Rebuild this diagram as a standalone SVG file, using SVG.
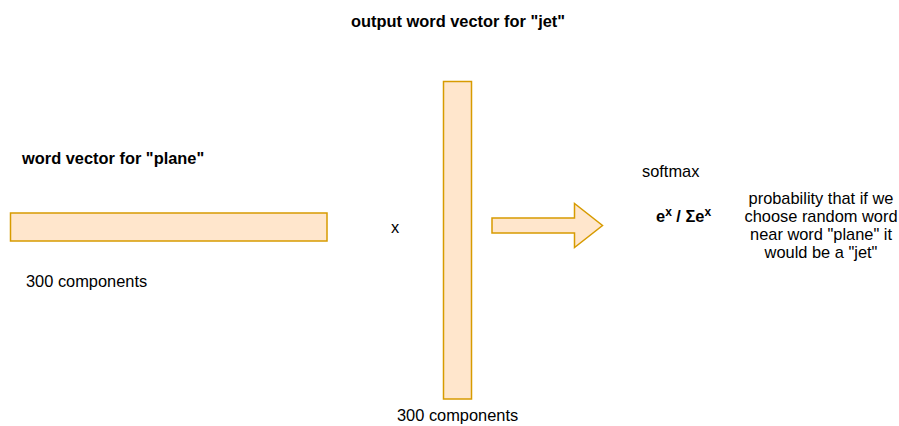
<svg xmlns="http://www.w3.org/2000/svg" width="899" height="426" viewBox="0 0 899 426">
<style>
.box{fill:#ffe6cc;stroke:#d79b00;stroke-width:1.5}
text{font-family:"Liberation Sans",Arial,Helvetica,sans-serif;font-size:16.4px;fill:#000}
.b{font-weight:bold}
</style>
<rect width="899" height="426" fill="#ffffff"/>
<g id="title-jet"><text class="b" x="351" y="27">output word vector for "jet"</text></g>
<g id="label-plane"><text class="b" x="22" y="164">word vector for "plane"</text></g>
<g id="vec-plane"><rect class="box" x="10.5" y="213" width="316.5" height="28"/></g>
<g id="label-300a"><text x="26" y="287">300 components</text></g>
<g id="times"><text x="391" y="233">x</text></g>
<g id="vec-jet"><rect class="box" x="443.5" y="81.5" width="28" height="317.5"/></g>
<g id="label-300b"><text x="397" y="421">300 components</text></g>
<g id="connectors">
<path class="box" d="M492 218 L574.5 218 L574.5 203.5 L602.5 225.5 L574.5 247.5 L574.5 233 L492 233 Z" stroke-linejoin="miter"/>
</g>
<g id="softmax"><text x="642" y="177">softmax</text></g>
<g id="formula"><text class="b" x="656" y="222">e<tspan dy="-6" font-size="12">x</tspan><tspan dy="6"> / Σe</tspan><tspan dy="-6" font-size="12">x</tspan></text></g>
<g id="probability">
<text text-anchor="middle" x="821" y="204">probability that if we</text>
<text text-anchor="middle" x="821" y="222">choose random word</text>
<text text-anchor="middle" x="821" y="240">near word "plane" it</text>
<text text-anchor="middle" x="821" y="258">would be a "jet"</text>
</g>
</svg>
